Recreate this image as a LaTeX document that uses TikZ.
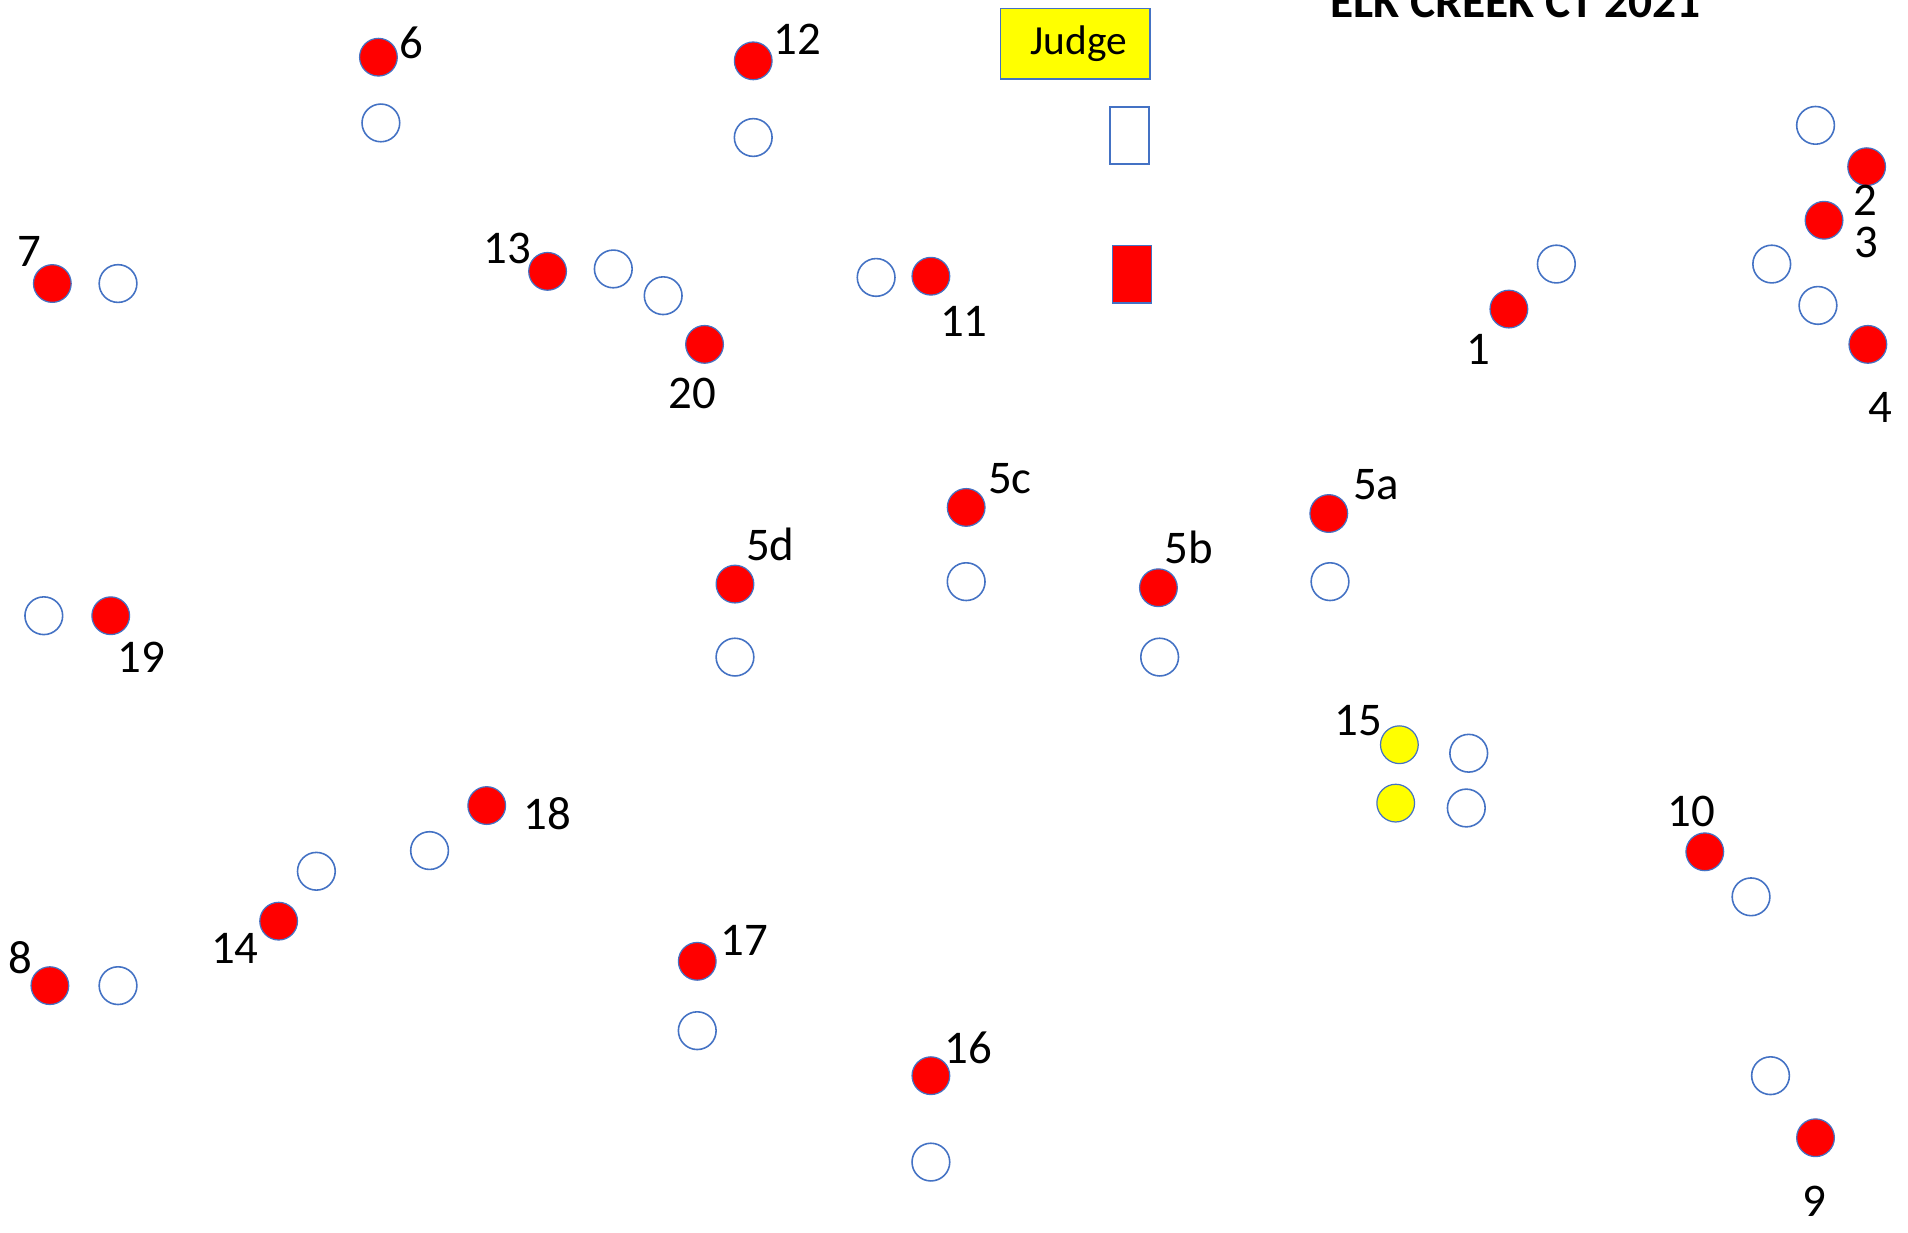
\documentclass[tikz,border=0pt]{standalone}
\usepackage{fontspec}
\setmainfont{Carlito}
\definecolor{edgeblue}{HTML}{4472C4}
\definecolor{dotred}{HTML}{FF0000}
\definecolor{dotyellow}{HTML}{FFFF00}
\tikzset{
  dot/.style={circle,minimum size=31pt,inner sep=0pt,draw=edgeblue,line width=1pt},
  reddot/.style={dot,fill=dotred},
  yeldot/.style={dot,fill=dotyellow},
  hollow/.style={dot,fill=white,line width=1.3pt},
  num/.style={inner sep=0pt,font=\fontsize{38.5}{40}\selectfont},
}
\begin{document}
\begin{tikzpicture}[x=1pt,y=-1pt]
\useasboundingbox[fill=white] (0,0) rectangle (1568,1012.5);
% title
\node[inner sep=0pt,anchor=base west,font=\fontsize{39}{40}\selectfont\bfseries] (title) at (1093,14) {ELK CREEK CT 2021};
% judge
\node[draw=edgeblue,fill=dotyellow,line width=1pt,minimum width=123pt,minimum height=58pt,inner sep=0pt,font=\fontsize{34}{36}\selectfont] (judge) at (883.5,36) {\hspace*{6pt}Judge};
\node[draw=edgeblue,fill=white,line width=1.3pt,minimum width=32pt,minimum height=47pt,inner sep=0pt] (gate) at (928,111.5) {};
\node[draw=edgeblue,fill=dotred,line width=1pt,minimum width=32pt,minimum height=47pt,inner sep=0pt] (flag) at (930,225.5) {};
% red dots
\node[reddot] (r6) at (311,47) {};
\node[reddot] (r12) at (619,50) {};
\node[reddot] (r7) at (43,233) {};
\node[reddot] (r13) at (450,223) {};
\node[reddot] (r20) at (579,283) {};
\node[reddot] (r11) at (765,227) {};
\node[reddot] (r1) at (1240,254) {};
\node[reddot] (r2) at (1534,137) {};
\node[reddot] (r3) at (1499,181) {};
\node[reddot] (r4) at (1535,283) {};
\node[reddot] (r5c) at (794,417) {};
\node[reddot] (r5a) at (1092,422) {};
\node[reddot] (r5d) at (604,480) {};
\node[reddot] (r5b) at (952,483) {};
\node[reddot] (r19) at (91,506) {};
\node[reddot] (r18) at (400,662) {};
\node[reddot] (r10) at (1401,700) {};
\node[reddot] (r14) at (229,757) {};
\node[reddot] (r8) at (41,810) {};
\node[reddot] (r17) at (573,790) {};
\node[reddot] (r16) at (765,884) {};
\node[reddot] (r9) at (1492,935) {};
% yellow
\node[yeldot] (y15a) at (1150,612) {};
\node[yeldot] (y15b) at (1147,660) {};
% hollow
\node[hollow] (h1) at (313,101) {};
\node[hollow] (h2) at (619,113) {};
\node[hollow] (h3) at (97,233) {};
\node[hollow] (h4) at (504,221) {};
\node[hollow] (h5) at (545,243) {};
\node[hollow] (h6) at (720,228) {};
\node[hollow] (h7) at (1279,217) {};
\node[hollow] (h8) at (1492,103) {};
\node[hollow] (h9) at (1456,217) {};
\node[hollow] (h10) at (1494,251) {};
\node[hollow] (h11) at (794,478) {};
\node[hollow] (h12) at (1093,478) {};
\node[hollow] (h13) at (604,540) {};
\node[hollow] (h14) at (953,540) {};
\node[hollow] (h15) at (36,506) {};
\node[hollow] (h16) at (1207,619) {};
\node[hollow] (h17) at (1205,664) {};
\node[hollow] (h18) at (353,699) {};
\node[hollow] (h19) at (260,716) {};
\node[hollow] (h20) at (1439,737) {};
\node[hollow] (h21) at (97,810) {};
\node[hollow] (h22) at (573,847) {};
\node[hollow] (h23) at (1455,884) {};
\node[hollow] (h24) at (765,955) {};
% labels
\node[num] (l6) at (338,35) {6};
\node[num] (l12) at (655,32) {12};
\node[num] (l7) at (24,207) {7};
\node[num] (l13) at (417,204) {13};
\node[num] (l20) at (569,323) {20};
\node[num] (l11) at (792,264) {11};
\node[num] (l1) at (1215,287) {1};
\node[num] (l2) at (1533,165) {2};
\node[num] (l3) at (1534,199) {3};
\node[num] (l4) at (1545,335) {4};
\node[num] (l5c) at (830,393) {5c};
\node[num] (l5a) at (1131,398) {5a};
\node[num] (l5d) at (633,447) {5d};
\node[num] (l5b) at (977,450) {5b};
\node[num] (l19) at (116,540) {19};
\node[num] (l18) at (450,669) {18};
\node[num] (l10) at (1390,667) {10};
\node[num] (l14) at (193,779) {14};
\node[num] (l8) at (17,787) {8};
\node[num] (l17) at (612,773) {17};
\node[num] (l16) at (796,861) {16};
\node[num] (l9) at (1491,987) {9};
\node[num] (l15) at (1116,592) {15};
\end{tikzpicture}
\end{document}
